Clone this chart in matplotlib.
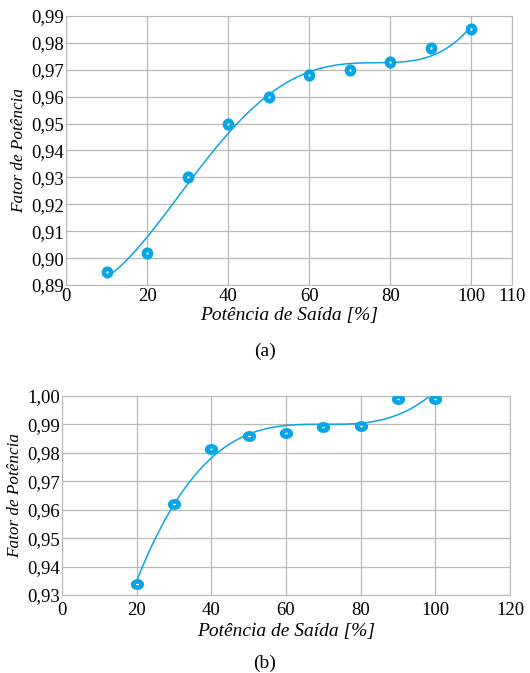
import numpy as np
import matplotlib.pyplot as plt
from matplotlib.path import Path
from matplotlib.ticker import FuncFormatter

# (a) power factor vs output power
pot_a = [10, 20, 30, 40, 50, 60, 70, 80, 90, 100]
fp_a = [0.895, 0.902, 0.930, 0.950, 0.960, 0.968, 0.970, 0.973, 0.978, 0.985]

# (b)
pot_b = [20, 30, 40, 50, 60, 70, 80, 90, 100]
fp_b = [0.934, 0.962, 0.9815, 0.986, 0.987, 0.989, 0.9893, 0.999, 0.999]

plt.rcParams['font.family'] = ['Liberation Serif', 'DejaVu Serif']
plt.rcParams['font.size'] = 13.5

cor = '#0aa5e5'
virgula = FuncFormatter(lambda v, p: f'{v:.2f}'.replace('.', ','))


def marcador(sx, sy):
    c = Path.unit_circle()
    return Path(c.vertices * [sx, sy], c.codes)


def painel(ax, x, y, grau, xticks, xmax, ylim, yticks, mk, ms, xpad, lpad):
    # polynomial trendline from the points
    xs = np.linspace(min(x), max(x), 300)
    coef = np.polyfit(x, y, grau)
    ax.plot(xs, np.polyval(coef, xs), color=cor, lw=1.1, zorder=2)
    ax.plot(x, y, linestyle='none', marker=mk, markersize=ms,
            markerfacecolor='white', markeredgecolor=cor, markeredgewidth=3.4, zorder=3)
    ax.set_xlim(0, xmax)
    ax.set_ylim(*ylim)
    ax.set_xticks(xticks)
    ax.set_yticks(yticks)
    ax.yaxis.set_major_formatter(virgula)
    ax.grid(True, color='#b8b8b8', lw=0.9)
    ax.set_axisbelow(True)
    for s in ax.spines.values():
        s.set_color('#b8b8b8')
    ax.tick_params(axis='y', length=0, pad=1.5)
    ax.tick_params(axis='x', length=0, pad=xpad)
    ax.set_xlabel('Potência de Saída [%]', style='italic', fontsize=14, labelpad=lpad)
    ax.set_ylabel('Fator de Potência', style='italic', fontsize=12.3, labelpad=3)


fig = plt.figure(figsize=(5.3, 6.73), dpi=100)
ax1 = fig.add_axes([66 / 530, 1 - 285 / 673, 446 / 530, 269 / 673])
ax2 = fig.add_axes([62 / 530, 1 - 595 / 673, 448 / 530, 199 / 673])

painel(ax1, pot_a, fp_a, 4, [0, 20, 40, 60, 80, 100, 110], 110,
       (0.89, 0.99), np.arange(0.89, 0.9901, 0.01), marcador(0.92, 1.0), 5.4, 2.5, 1)
painel(ax2, pot_b, fp_b, 3, [0, 20, 40, 60, 80, 100, 120], 120,
       (0.93, 1.0), np.arange(0.93, 1.0001, 0.01), marcador(1.0, 0.72), 6.2, 5, 3)

fig.text(265 / 530, 1 - 351 / 673, '(a)', ha='center', va='center', fontsize=14)
fig.text(265 / 530, 1 - 663 / 673, '(b)', ha='center', va='center', fontsize=14)

fig.savefig('out.png', dpi=100)
